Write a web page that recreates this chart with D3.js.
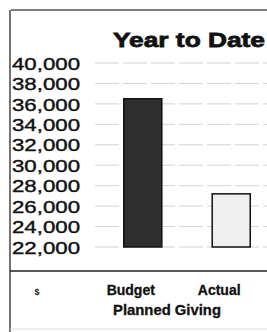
<!DOCTYPE html>
<html>
<head>
<meta charset="utf-8">
<script src="https://cdn.jsdelivr.net/npm/d3@7"></script>
<style>
  body { margin: 0; background: #fff; }
  text { font-family: Arial, "Liberation Sans", sans-serif; fill: #111; }
</style>
</head>
<body>
<div id="chart"></div>
<script>
// chart data
var categories = ["Budget", "Actual"];
var values = [36500, 27200];
var yTicks = [22000, 24000, 26000, 28000, 30000, 32000, 34000, 36000, 38000, 40000];
var title = "Year to Date";
var groupLabel = "Planned Giving";
var unitLabel = "$";

var width = 267, height = 332;

var svg = d3.select("#chart").append("svg")
    .attr("width", width)
    .attr("height", height);

// scales
var y = d3.scaleLinear()
    .domain([22000, 40000])
    .range([247, 63]);

var x = d3.scaleBand()
    .domain(categories)
    .range([99, 275])
    .paddingInner(0.57)
    .paddingOuter(0.28);

// frame lines
svg.append("line")
    .attr("x1", 11).attr("x2", width).attr("y1", 10).attr("y2", 10)
    .attr("stroke", "#555").attr("stroke-width", 1.5);
svg.append("line")
    .attr("x1", 10).attr("x2", 10).attr("y1", 10).attr("y2", height)
    .attr("stroke", "#444").attr("stroke-width", 1.5);
svg.append("line")
    .attr("x1", 10).attr("x2", width).attr("y1", 271).attr("y2", 271)
    .attr("stroke", "#222").attr("stroke-width", 1.5);
svg.append("line")
    .attr("x1", 10).attr("x2", width).attr("y1", 329).attr("y2", 329)
    .attr("stroke", "#ddd").attr("stroke-width", 1);

// title
svg.append("text")
    .attr("x", 113).attr("y", 47)
    .attr("textLength", 152)
    .attr("lengthAdjust", "spacingAndGlyphs")
    .style("font-size", "21px")
    .style("font-weight", "bold")
    .style("stroke", "#111")
    .style("stroke-width", 0.8)
    .text(title);

// gridlines
svg.append("g")
    .selectAll("line")
    .data(yTicks)
    .enter().append("line")
    .attr("x1", 95).attr("x2", width)
    .attr("y1", function(d) { return y(d); })
    .attr("y2", function(d) { return y(d); })
    .attr("stroke", "#d4d4d4")
    .attr("stroke-width", 1)
    .attr("stroke-dasharray", "24,4");

// y axis labels
var yAxis = d3.axisLeft(y)
    .tickValues(yTicks)
    .tickSize(0)
    .tickFormat(d3.format(","));

var gy = svg.append("g")
    .attr("transform", "translate(80,0)")
    .call(yAxis);
gy.select(".domain").remove();
gy.selectAll("text")
    .attr("x", -68)
    .attr("dy", "0.36em")
    .attr("text-anchor", "start")
    .attr("textLength", 68)
    .attr("lengthAdjust", "spacingAndGlyphs")
    .style("font-size", "17px")
    .style("font-family", "Arial, 'Liberation Sans', sans-serif")
    .style("fill", "#111")
    .style("stroke", "#111")
    .style("stroke-width", 0.4);

// bars
svg.append("g")
    .selectAll("rect")
    .data(categories)
    .enter().append("rect")
    .attr("x", function(d) { return x(d); })
    .attr("y", function(d, i) { return y(values[i]); })
    .attr("width", x.bandwidth())
    .attr("height", function(d, i) { return y(22000) - y(values[i]); })
    .attr("fill", function(d, i) { return i === 0 ? "#2e2e2e" : "#f0f0f0"; })
    .attr("stroke", "#111")
    .attr("stroke-width", 1.5);

// category labels
svg.append("g")
    .selectAll("text")
    .data(categories)
    .enter().append("text")
    .attr("x", function(d) { return x(d) + x.bandwidth() / 2 - 12; })
    .attr("y", 295)
    .attr("text-anchor", "middle")
    .style("font-size", "14px")
    .style("font-weight", "bold")
    .style("stroke", "#111")
    .style("stroke-width", 0.3)
    .text(function(d) { return d; });

svg.append("text")
    .attr("x", 167).attr("y", 315)
    .attr("text-anchor", "middle")
    .attr("textLength", 108)
    .attr("lengthAdjust", "spacingAndGlyphs")
    .style("font-size", "14px")
    .style("font-weight", "bold")
    .style("stroke", "#111")
    .style("stroke-width", 0.3)
    .text(groupLabel);

svg.append("text")
    .attr("x", 37).attr("y", 295)
    .attr("text-anchor", "middle")
    .style("font-size", "9px")
    .style("font-weight", "bold")
    .text(unitLabel);
</script>
</body>
</html>
